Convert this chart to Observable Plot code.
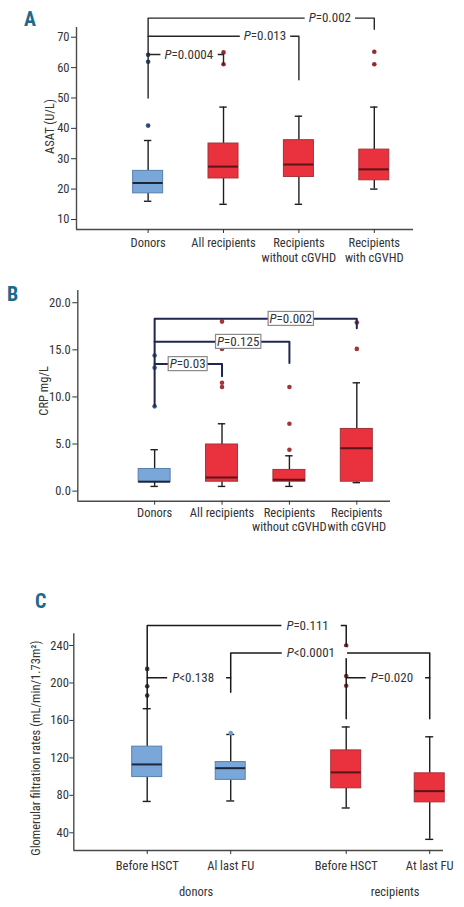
<!DOCTYPE html>
<html><head><meta charset="utf-8">
<script src="https://cdn.jsdelivr.net/npm/d3@7"></script>
<script src="https://cdn.jsdelivr.net/npm/@observablehq/plot@0.6"></script>
<style>
body{margin:0;background:#fff;}
#root{position:relative;width:464px;height:907px;overflow:hidden;font-family:Roboto,sans-serif;font-stretch:condensed;}
.panel{position:absolute;left:0;}
.letter{position:absolute;font-weight:bold;color:#1b6a8b;font-size:20px;line-height:1;font-family:Roboto,sans-serif;font-stretch:condensed;}
</style></head><body><div id="root"></div>
<script>
// ---------- Panel A: ASAT ----------
const groupsA = ["Donors","All recipients","Recipients\nwithout cGVHD","Recipients\nwith cGVHD"];
const kindA = ["donor","recipient","recipient","recipient"];
const lowA  = [16, 15, 15, 20];
const q1A   = [18.6, 23.5, 24, 22.9];
const medA  = [22, 27.4, 28.1, 26.5];
const q3A   = [26, 35, 36.1, 33];
const highA = [36, 47, 44, 47];
const outGroupA = [0, 0, 0, 1, 1, 3, 3];
const outValueA = [64.2, 61.9, 40.9, 65, 61.1, 65.2, 61.1];
const yTicksA = [10, 20, 30, 40, 50, 60, 70];
const brFromA = [0, 0, 0];
const brToA = [1, 2, 3];
const brLevelA = [64.3, 70.3, 76.3];
const brFromEndA = [64.3, 70.3, 50];
const brToEndA = [61.1, 56, 72.6];
const brLabelA = ["P=0.0004", "P=0.013", "P=0.002"];

// ---------- Panel B: CRP ----------
const groupsB = ["Donors","All recipients","Recipients\nwithout cGVHD","Recipients\nwith cGVHD"];
const kindB = ["donor","recipient","recipient","recipient"];
const lowB  = [0.5, 0.5, 0.5, 0.9];
const q1B   = [1.0, 1.0, 1.0, 1.0];
const medB  = [1.0, 1.45, 1.2, 4.55];
const q3B   = [2.35, 4.95, 2.25, 6.6];
const highB = [4.4, 7.15, 3.75, 11.5];
const outGroupB = [0, 0, 0, 1, 1, 1, 1, 2, 2, 2, 3, 3];
const outValueB = [9.0, 13.1, 14.4, 11.05, 11.5, 15.1, 18.0, 4.4, 7.15, 11.05, 15.1, 17.9];
const yTicksB = [0, 5, 10, 15, 20];
const brFromB = [0, 0, 0];
const brToB = [1, 2, 3];
const brLevelB = [13.5, 15.86, 18.3];
const brFromEndB = [13.5, 15.86, 9.0];
const brToEndB = [12.2, 13.6, 17.3];
const brLabelB = ["P=0.03", "P=0.125", "P=0.002"];

// ---------- Panel C: GFR ----------
const groupsC = ["Before HSCT","Al last FU","Before HSCT","At last FU"];
const kindC = ["donor","donor","recipient","recipient"];
const cohortC = ["donors","recipients"];
const cohortOfC = [0, 0, 1, 1];
const lowC  = [73.5, 74, 66.5, 33];
const q1C   = [99.5, 96.5, 87.5, 72.5];
const medC  = [113, 109, 104.5, 84.5];
const q3C   = [132, 115.5, 128, 103.5];
const highC = [172.5, 145, 153, 142.5];
const outGroupC = [0, 0, 0, 1, 2, 2, 2];
const outValueC = [186.5, 196.5, 215, 146.5, 197, 207.5, 240];
const yTicksC = [40, 80, 120, 160, 200, 240];
const brFromC = [0, 1, 0, 2];
const brToC = [2, 3, 1, 3];
const brLevelC = [261.4, 232, 205.5, 205.5];
const brFromEndC = [172.5, 190, 205.5, 205.5];
const brToEndC = [161.7, 161.7, 205.5, 205.5];
const brLabelC = ["P=0.111", "P<0.0001", "P<0.138", "P=0.020"];

const FONT = 'Roboto, sans-serif';
const FS = 12.5;
const FILL = {donor: "#79a7da", recipient: "#ea323e"};
const EDGE = {donor: "#5a7fae", recipient: "#a3323a"};
const MED = {donor: "#1c2638", recipient: "#5a1519"};

function buildPanel(o) {
  const n = o.groups.length;
  const pos = d3.range(n).map(i => i + (o.gapAfter != null && i > o.gapAfter ? o.gap : 0));
  const pxPerX = (o.width - o.ml - o.mr) / (o.xDomain[1] - o.xDomain[0]);
  const bw = o.boxHalfPx / pxPerX, cw = o.capHalfPx / pxPerX;
  const stats = o.groups.map((g, i) => ({x: pos[i], low: o.low[i], q1: o.q1[i], med: o.med[i], q3: o.q3[i], high: o.high[i], kind: o.kind[i]}));
  const outs = o.outGroup.map((g, j) => ({x: pos[g], y: o.outValue[j], c: o.dotColors[g]}));
  const pts = [];
  o.brFrom.forEach((f, k) => {
    const t = o.brTo[k];
    pts.push({k, x: pos[f], y: o.brFromEnd[k]}, {k, x: pos[f], y: o.brLevel[k]},
             {k, x: pos[t], y: o.brLevel[k]}, {k, x: pos[t], y: o.brToEnd[k]});
  });
  const labels = o.brLabel.map((s, k) => ({x: o.labelX[k], y: o.brLevel[k], s}));
  const marks = [
    Plot.ruleX([o.xDomain[0]], {stroke: "#4a4a4a", strokeWidth: 1.4}),
    Plot.ruleY([o.yDomain[0]], {stroke: "#4a4a4a", strokeWidth: 1.4}),
    Plot.axisY({ticks: o.yTicks, tickFormat: o.yFormat, tickSize: o.ytickSize, tickPadding: o.ytickPad, label: null, fontSize: FS}),
    Plot.axisX({ticks: pos, tickFormat: (d, i) => o.groups[i], tickSize: 4, tickPadding: o.xtickPad, label: null, fontSize: FS, lineHeight: 1.17}),
    Plot.text([o.yTitle], {text: d => d, frameAnchor: "left", textAnchor: "middle", lineAnchor: "middle", rotate: -90, dx: o.yTitleDx, dy: o.yTitleDy, fontSize: FS, fill: "#333"}),
    Plot.ruleX(stats, {x: "x", y1: "low", y2: "q1", stroke: "#1e1e1e", strokeWidth: 1.4}),
    Plot.ruleX(stats, {x: "x", y1: "q3", y2: "high", stroke: "#1e1e1e", strokeWidth: 1.4}),
    Plot.ruleY(stats, {x1: d => d.x - cw, x2: d => d.x + cw, y: "low", stroke: "#1e1e1e", strokeWidth: 1.4}),
    Plot.ruleY(stats, {x1: d => d.x - cw, x2: d => d.x + cw, y: "high", stroke: "#1e1e1e", strokeWidth: 1.4}),
    Plot.rect(stats, {x1: d => d.x - bw, x2: d => d.x + bw, y1: "q1", y2: "q3", fill: d => FILL[d.kind], stroke: d => EDGE[d.kind], strokeWidth: 1}),
    Plot.ruleY(stats, {x1: d => d.x - bw, x2: d => d.x + bw, y: "med", stroke: d => MED[d.kind], strokeWidth: 2}),
    Plot.dot(outs, {x: "x", y: "y", r: 2.3, fill: "c", stroke: "none"}),
    Plot.line(pts, {x: "x", y: "y", z: "k", stroke: o.brStroke, strokeWidth: o.brWidth}),
    Plot.text(labels, {x: "x", y: "y", text: "s", fontSize: 13, fill: "#333", ariaDescription: "plabel"})
  ];
  if (o.cohorts) {
    const cx = o.cohorts.map((c, ci) => d3.mean(pos.filter((p, i) => o.cohortOf[i] === ci)) + o.cohortShift);
    marks.push(Plot.text(o.cohorts, {x: (d, i) => cx[i], text: d => d, frameAnchor: "bottom", lineAnchor: "top", dy: o.cohortDy, fontSize: FS, fill: "#333"}));
  }
  const svg = Plot.plot({
    width: o.width, height: o.height,
    marginLeft: o.ml, marginRight: o.mr, marginTop: o.mt, marginBottom: o.mb,
    x: {type: "linear", domain: o.xDomain, axis: null},
    y: {type: "linear", domain: o.yDomain, axis: null},
    color: {type: "identity"},
    style: {fontFamily: FONT, fontStretch: "condensed", fontSize: FS + "px", color: "#333", background: "transparent", overflow: "visible"},
    marks
  });
  const wrap = document.createElement("div");
  wrap.className = "panel";
  wrap.style.top = o.top + "px";
  wrap.appendChild(svg);
  document.getElementById("root").appendChild(wrap);
  // italic "P" plus a white gap (or a framed box) behind each label
  const ns = "http://www.w3.org/2000/svg";
  svg.querySelectorAll('g[aria-description="plabel"] text').forEach(t => {
    const s = t.textContent;
    t.textContent = "";
    const it = document.createElementNS(ns, "tspan");
    it.setAttribute("font-style", "italic");
    it.textContent = s[0];
    const rest = document.createElementNS(ns, "tspan");
    rest.textContent = s.slice(1);
    t.appendChild(it); t.appendChild(rest);
    const b = t.getBBox();
    const r = document.createElementNS(ns, "rect");
    if (o.boxed) {
      r.setAttribute("x", b.x - 1.5); r.setAttribute("y", b.y + 0.5);
      r.setAttribute("width", b.width + 3); r.setAttribute("height", b.height - 1);
      r.setAttribute("fill", "white"); r.setAttribute("stroke", "#8a8a8a"); r.setAttribute("stroke-width", "1.2");
    } else {
      r.setAttribute("x", b.x - o.padL); r.setAttribute("y", b.y + 2);
      r.setAttribute("width", b.width + o.padL + o.padR); r.setAttribute("height", b.height - 4);
      r.setAttribute("fill", "white");
    }
    const tr = t.getAttribute("transform");
    if (tr) r.setAttribute("transform", tr);
    t.parentNode.insertBefore(r, t);
  });
}

buildPanel({
  top: 0, width: 464, height: 268, ml: 76, mr: 51, mt: 27, mb: 39,
  xDomain: [-0.95, 3.52], yDomain: [6.7, 73.2],
  groups: groupsA, kind: kindA, low: lowA, q1: q1A, med: medA, q3: q3A, high: highA,
  outGroup: outGroupA, outValue: outValueA, dotColors: ["#2f4a78", "#9b2a30", "#9b2a30", "#9b2a30"],
  yTicks: yTicksA, yFormat: d => d, ytickSize: 5, ytickPad: 2, xtickPad: 3,
  yTitle: "ASAT (U/L)", yTitleDx: -27, yTitleDy: -2,
  brFrom: brFromA, brTo: brToA, brLevel: brLevelA, brFromEnd: brFromEndA, brToEnd: brToEndA, brLabel: brLabelA,
  labelX: [0.54, 1.55, 2.41], brStroke: "#262626", brWidth: 1.4, boxed: false, padL: 4, padR: 4,
  boxHalfPx: 15, capHalfPx: 3.7
});

buildPanel({
  top: 275, width: 464, height: 265, ml: 77.3, mr: 74, mt: 15, mb: 39.3,
  xDomain: [-1.14, 3.5], yDomain: [-1.07, 21.3],
  groups: groupsB, kind: kindB, low: lowB, q1: q1B, med: medB, q3: q3B, high: highB,
  outGroup: outGroupB, outValue: outValueB, dotColors: ["#3b5f96", "#a3343a", "#a3343a", "#a3343a"],
  yTicks: yTicksB, yFormat: d => d.toFixed(1), ytickSize: 5, ytickPad: 2, xtickPad: 1,
  yTitle: "CRP mg/L", yTitleDx: -34, yTitleDy: -5,
  brFrom: brFromB, brTo: brToB, brLevel: brLevelB, brFromEnd: brFromEndB, brToEnd: brToEndB, brLabel: brLabelB,
  labelX: [0.49, 1.24, 2.02], brStroke: "#1f2750", brWidth: 2, boxed: true,
  boxHalfPx: 16, capHalfPx: 3.7
});

buildPanel({
  top: 605, width: 464, height: 302, ml: 73.3, mr: 21, mt: 28.3, mb: 57,
  xDomain: [-0.879, 3.548], yDomain: [21.1, 252.5], gapAfter: 1, gap: 0.383,
  groups: groupsC, kind: kindC, low: lowC, q1: q1C, med: medC, q3: q3C, high: highC,
  outGroup: outGroupC, outValue: outValueC, dotColors: ["#3f3f3f", "#6f9dd2", "#9b2a30", "#9b2a30"],
  yTicks: yTicksC, yFormat: d => d, ytickSize: 4, ytickPad: 1, xtickPad: 5,
  yTitle: "Glomerular filtration rates (mL/min/1.73m²)", yTitleDx: -38, yTitleDy: 6,
  brFrom: brFromC, brTo: brToC, brLevel: brLevelC, brFromEnd: brFromEndC, brToEnd: brToEndC, brLabel: brLabelC,
  labelX: [1.92, 1.96, 0.55, 2.93], brStroke: "#1a1a1a", brWidth: 1.5, boxed: false, padL: 5, padR: 12,
  boxHalfPx: 15, capHalfPx: 4,
  cohorts: cohortC, cohortOf: cohortOfC, cohortShift: 0.085, cohortDy: 37
});

// panel letters
[["A", 24, 9], ["B", 7, 284], ["C", 35, 591]].forEach(([t, x, y]) => {
  const d = document.createElement("div");
  d.className = "letter"; d.textContent = t;
  d.style.left = x + "px"; d.style.top = y + "px";
  document.getElementById("root").appendChild(d);
});
</script></body></html>
